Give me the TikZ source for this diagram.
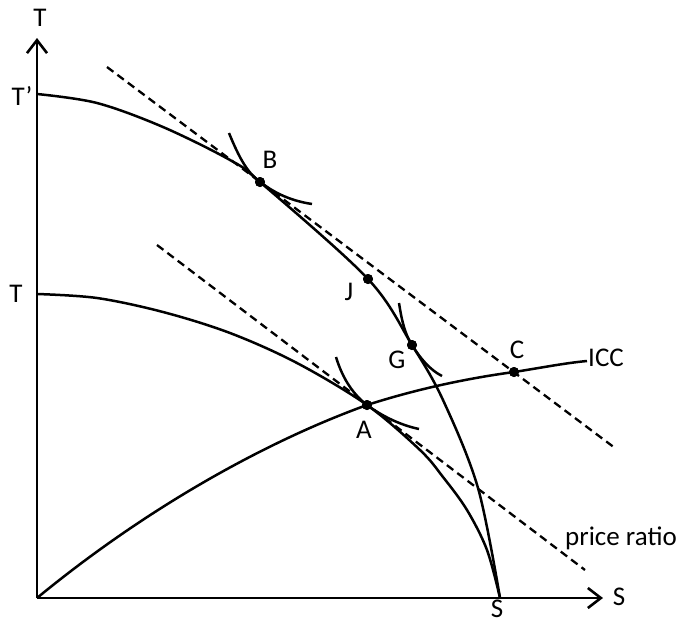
\documentclass[tikz,border=0pt]{standalone}
\usepackage{fontspec}
\setmainfont{Carlito}
\usetikzlibrary{arrows.meta}
\tikzset{
  axis/.style={line width=2.8pt,-{Straight Barb[length=13pt,width=20pt,line width=2.6pt]}},
  curve/.style={line width=2.5pt,line join=round},
  priceline/.style={line width=2.3pt,dash pattern=on 8pt off 5pt},
  dot/.style={circle,fill=black,inner sep=0pt,minimum size=10pt},
  lbl/.style={font=\fontsize{27}{31}\selectfont,inner sep=0pt}
}
\begin{document}
\begin{tikzpicture}[x=1pt,y=-1pt]
\useasboundingbox (0,0) rectangle (681,625);
% key points
\coordinate (O) at (37,598);
\coordinate (Ttop) at (37,38);
\coordinate (Sright) at (603,598);
\coordinate (D1a) at (107,67);
\coordinate (D1b) at (615,448);
\coordinate (D2a) at (157,245);
\coordinate (D2b) at (585,570);
% dots
\node[dot] (B) at (260,182) {};
\node[dot] (J) at (368,279) {};
\node[dot] (G) at (412,345) {};
\node[dot] (A) at (367,405) {};
\node[dot] (C) at (514,372) {};
% dashed price lines
\draw[priceline] (D1a) -- (D1b);
\draw[priceline] (D2a) -- (D2b);
% outer PPF
\draw[curve] plot[smooth,tension=0.55] coordinates {(37,94) (97,103) (163,127) (230,160) (260,182) (368,279) (412,345) (443,400) (478,488) (500,598)};
% inner PPF
\draw[curve] plot[smooth,tension=0.55] coordinates {(37,294) (97,298) (163,312) (230,333) (297,363) (367,405) (420,450) (443,477) (467,510) (487,550) (500,598)};
% ICC
\draw[curve] (O) .. controls (150,505) and (270,440) .. (A.center) .. controls (420,388) and (470,378) .. (C.center) .. controls (540,368) and (565,363) .. (587,361);
% indifference curves
\draw[curve] (229,133) .. controls (240,160) and (248,173) .. (B.center) .. controls (276,194) and (292,201) .. (312,204);
\draw[curve] (399,303) .. controls (402,322) and (405,334) .. (G.center) .. controls (420,358) and (430,370) .. (442,376);
\draw[curve] (336,357) .. controls (343,380) and (354,395) .. (A.center) .. controls (382,416) and (400,425) .. (419,429);
% axes
\draw[axis] (O) -- (Ttop);
\draw[axis] (O) -- (Sright);
% redraw dots on top
\foreach \p in {B,J,G,A,C} \fill (\p) circle (5pt);
% labels
\node[lbl] (lT) at (40,18) {T};
\node[lbl] (lTp) at (22,96) {T’};
\node[lbl] (lT2) at (16,294) {T};
\node[lbl] (lS) at (497,609) {S};
\node[lbl] (lS2) at (619,597) {S};
\node[lbl] (lB) at (270,160) {B};
\node[lbl] (lJ) at (349,292) {J};
\node[lbl] (lG) at (397,360) {G};
\node[lbl] (lA) at (364,430) {A};
\node[lbl] (lC) at (517,350) {C};
\node[lbl] (lICC) at (606,358) {ICC};
\node[lbl] (lpr) at (621,538) {price ratio};
\end{tikzpicture}
\end{document}
